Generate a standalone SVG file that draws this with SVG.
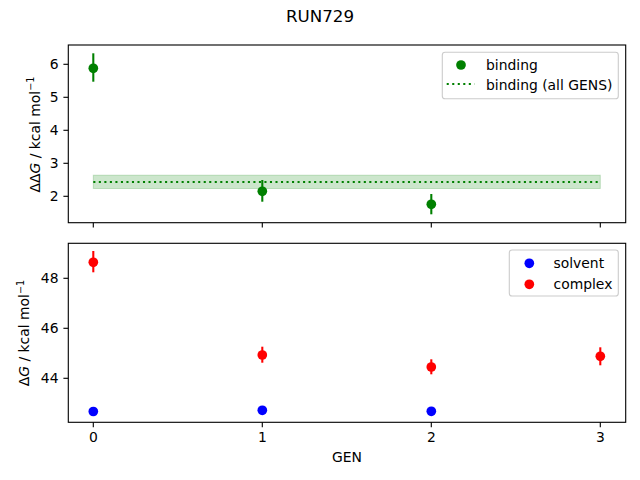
<svg xmlns="http://www.w3.org/2000/svg" width="640" height="480" viewBox="0 0 640 480">
<style>
text{font-family:"DejaVu Sans","Liberation Sans",sans-serif;font-size:13.9px;fill:#000}
.title{font-size:16.7px}
.spine{fill:none;stroke:#000;stroke-width:1.11}
.tick{stroke:#000;stroke-width:1.11}
.leg{fill:#fff;fill-opacity:0.8;stroke:#ccc;stroke-width:1.11}
.eg{stroke:#008000;stroke-width:2.08}
.er{stroke:#ff0000;stroke-width:2.08}
.g{fill:#008000}
.r{fill:#ff0000}
.b{fill:#0000ff}
circle{r:4.85px}
</style>
<rect width="640" height="480" fill="#fff"/>
<text class="title" x="320" y="21.5" text-anchor="middle">RUN729</text>

<g id="top-axes">
<rect x="93.3" y="175.2" width="507" height="13.3" fill="#008000" fill-opacity="0.2" stroke="#008000" stroke-opacity="0.2" stroke-width="1"/>
<line x1="93.3" y1="182" x2="600.3" y2="182" stroke="#008000" stroke-width="2.08" stroke-dasharray="2.08 3.44"/>
<g id="binding-points">
<line class="eg" x1="93.3" y1="53.3" x2="93.3" y2="81.7"/>
<circle class="g" cx="93.3" cy="68.3" r="4.85"/>
<line class="eg" x1="262.3" y1="180" x2="262.3" y2="201.7"/>
<circle class="g" cx="262.3" cy="191.3" r="4.85"/>
<line class="eg" x1="431.3" y1="194" x2="431.3" y2="214.3"/>
<circle class="g" cx="431.3" cy="204.3" r="4.85"/>
</g>
<rect class="spine" x="68.3" y="45" width="557.4" height="177.7"/>
<g class="tick">
<line x1="93.3" y1="222.7" x2="93.3" y2="227.6"/>
<line x1="262.3" y1="222.7" x2="262.3" y2="227.6"/>
<line x1="431.3" y1="222.7" x2="431.3" y2="227.6"/>
<line x1="600.3" y1="222.7" x2="600.3" y2="227.6"/>
<line x1="68.3" y1="64.3" x2="63.4" y2="64.3"/>
<line x1="68.3" y1="97.3" x2="63.4" y2="97.3"/>
<line x1="68.3" y1="130.3" x2="63.4" y2="130.3"/>
<line x1="68.3" y1="163.3" x2="63.4" y2="163.3"/>
<line x1="68.3" y1="196.3" x2="63.4" y2="196.3"/>
</g>
<g text-anchor="end">
<text x="58.5" y="69.3">6</text>
<text x="58.5" y="102.3">5</text>
<text x="58.5" y="135.3">4</text>
<text x="58.5" y="168.3">3</text>
<text x="58.5" y="201.3">2</text>
</g>
<text transform="translate(39.5,134.5) rotate(-90)" text-anchor="middle">ΔΔ<tspan font-style="italic">G</tspan> / kcal mol<tspan font-size="9.7px" dy="-5.5">−1</tspan></text>
<g id="legend-top">
<rect class="leg" x="442.3" y="52.3" width="176" height="46.4" rx="2.8"/>
<circle class="g" cx="461" cy="65" r="4.85"/>
<text x="486" y="69.5">binding</text>
<line x1="446.7" y1="84" x2="474.5" y2="84" stroke="#008000" stroke-width="2.08" stroke-dasharray="2.08 3.44"/>
<text x="486" y="89.5">binding (all GENS)</text>
</g>
</g>

<g id="bottom-axes">
<g id="complex-points">
<line class="er" x1="93.3" y1="251" x2="93.3" y2="272.3"/>
<circle class="r" cx="93.3" cy="262.3" r="4.85"/>
<line class="er" x1="262.3" y1="346.7" x2="262.3" y2="362.7"/>
<circle class="r" cx="262.3" cy="355" r="4.85"/>
<line class="er" x1="431.3" y1="359.3" x2="431.3" y2="374.3"/>
<circle class="r" cx="431.3" cy="367" r="4.85"/>
<line class="er" x1="600.3" y1="347.3" x2="600.3" y2="365.3"/>
<circle class="r" cx="600.3" cy="356.3" r="4.85"/>
</g>
<g id="solvent-points">
<circle class="b" cx="93.3" cy="411.5" r="4.85"/>
<circle class="b" cx="262.3" cy="410.3" r="4.85"/>
<circle class="b" cx="431.3" cy="411.3" r="4.85"/>
</g>
<rect class="spine" x="68.3" y="243.3" width="557.4" height="179"/>
<g class="tick">
<line x1="93.3" y1="422.3" x2="93.3" y2="427.2"/>
<line x1="262.3" y1="422.3" x2="262.3" y2="427.2"/>
<line x1="431.3" y1="422.3" x2="431.3" y2="427.2"/>
<line x1="600.3" y1="422.3" x2="600.3" y2="427.2"/>
<line x1="68.3" y1="278.3" x2="63.4" y2="278.3"/>
<line x1="68.3" y1="328.3" x2="63.4" y2="328.3"/>
<line x1="68.3" y1="378.3" x2="63.4" y2="378.3"/>
</g>
<g text-anchor="end">
<text x="58.5" y="283.3">48</text>
<text x="58.5" y="333.3">46</text>
<text x="58.5" y="383.3">44</text>
</g>
<g text-anchor="middle">
<text x="93.3" y="442">0</text>
<text x="262.3" y="442">1</text>
<text x="431.3" y="442">2</text>
<text x="600.3" y="442">3</text>
<text x="347" y="461.7">GEN</text>
</g>
<text transform="translate(29,333) rotate(-90)" text-anchor="middle">Δ<tspan font-style="italic">G</tspan> / kcal mol<tspan font-size="9.7px" dy="-5.5">−1</tspan></text>
<g id="legend-bottom">
<rect class="leg" x="509.3" y="250" width="109" height="46" rx="2.8"/>
<circle class="b" cx="529.3" cy="263.3" r="4.85"/>
<text x="553.5" y="268">solvent</text>
<circle class="r" cx="529.3" cy="284.3" r="4.85"/>
<text x="553.5" y="289">complex</text>
</g>
</g>
</svg>
